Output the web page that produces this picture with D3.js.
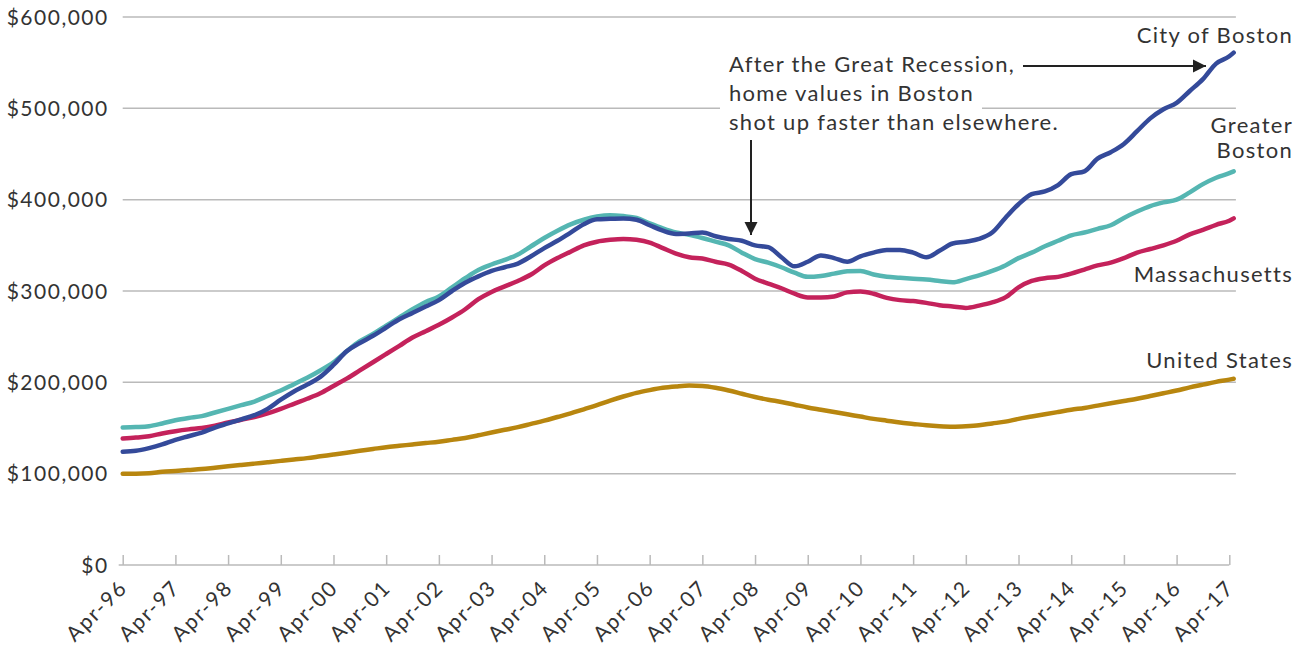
<!DOCTYPE html>
<html>
<head>
<meta charset="utf-8">
<script src="https://cdn.jsdelivr.net/npm/d3@7"></script>
<style>
  body { margin: 0; background: #fff; }
  svg { display: block; font-family: Lato, "Open Sans", sans-serif; }
</style>
</head>
<body>
<svg id="chart" width="1307" height="651"></svg>
<script>
// quarterly readings, in thousands of dollars, starting Apr-96 (last point is ~May-17)
const months = d3.range(0, 253, 3).concat([253]);

const cityOfBoston = [
    124, 125, 128, 132, 137, 141, 145, 150.5, 155, 159.5, 164, 171, 181, 190, 197.5, 206,
    219, 234, 243, 251, 260, 269, 276, 283, 290, 300, 309, 316, 322, 326, 330, 338,
    347, 355, 364, 373, 378.5, 379, 379.5, 378, 372, 366, 362.5, 363, 364, 360, 357, 355,
    350, 348, 337, 327, 332, 339, 336, 332, 338, 342, 345, 345, 342, 337, 344, 352,
    354, 357, 364, 380, 395, 406, 409, 416, 428, 431, 445, 452, 461, 475, 489, 499,
    506, 519, 532, 549, 557, 561
];
const greaterBoston = [
    150.5, 151, 152, 155, 158.5, 161, 163, 167, 171, 175, 179, 185, 191, 198, 205, 213,
    222, 234, 245, 253, 262, 271, 280, 288, 294, 304, 314, 323, 329, 334, 340, 349,
    358, 366, 373, 378, 381.5, 383, 382, 380, 374, 368.5, 364, 361.5, 358, 354, 350, 342,
    335, 331, 326, 320, 315.5, 316.5, 319, 321.5, 322, 318, 315.5, 314.5, 313.5, 312.5, 311, 309.5,
    313, 317, 322, 328, 336, 342, 349, 355, 361, 364, 368, 372, 380, 387, 393, 397,
    400, 408, 417, 424, 429, 431
];
const massachusetts = [
    138.5, 139.5, 141, 144, 146.5, 148.5, 150, 152.5, 156, 159, 162, 166, 171, 176.5, 182, 188,
    196, 204, 213, 222, 231, 240, 249, 256, 263, 271, 280, 291, 299, 305, 311, 318,
    328, 336, 343, 350, 354, 356, 357, 356, 353, 347, 341, 337, 335.5, 332, 329, 322,
    313.5, 308, 303, 297, 293, 293, 294, 298.5, 299.5, 297, 292.5, 290, 289, 287, 284.5, 283,
    281.5, 284, 287.5, 293, 304, 311, 314, 315.5, 319, 323.5, 328, 331, 336, 342, 346, 350,
    355, 362, 367, 372.5, 377, 379.5
];
const unitedStates = [
    100, 100, 100.5, 102, 103, 104, 105, 106.5, 108, 109.5, 111, 112.5, 114, 115.5, 117, 119,
    121, 123, 125, 127, 129, 130.5, 132, 133.5, 135, 137, 139, 142, 145, 148, 151, 154.5,
    158, 162, 166, 170.5, 175, 180, 184.5, 188.5, 191.5, 194, 195.5, 196.5, 196, 194, 191, 187.5,
    184, 181, 178.5, 175.5, 172.5, 170, 167.5, 165, 162.5, 160, 158, 156, 154.5, 153, 152, 151.5,
    152, 153, 155, 157, 160, 162.5, 165, 167.5, 170, 172, 174.5, 177, 179.5, 182, 185, 188,
    191, 194.5, 197.5, 200.5, 203, 204
];

const xTickLabels = ["Apr-96", "Apr-97", "Apr-98", "Apr-99", "Apr-00", "Apr-01", "Apr-02",
    "Apr-03", "Apr-04", "Apr-05", "Apr-06", "Apr-07", "Apr-08", "Apr-09", "Apr-10", "Apr-11",
    "Apr-12", "Apr-13", "Apr-14", "Apr-15", "Apr-16", "Apr-17"];
const yTicks = [0, 100000, 200000, 300000, 400000, 500000, 600000];

const series = [
    { name: 'United States', values: unitedStates, color: '#b8860f' },
    { name: 'Massachusetts', values: massachusetts, color: '#c4225b' },
    { name: 'Greater Boston', values: greaterBoston, color: '#55b6b2' },
    { name: 'City of Boston', values: cityOfBoston, color: '#344a9a' }
];

const FONT = 'Lato, "Open Sans", sans-serif';
const svg = d3.select('#chart');

const x = d3.scaleLinear().domain([0, 252]).range([122.7, 1229.3]);
const y = d3.scaleLinear().domain([0, 600000]).range([565, 17]);

// gridlines
svg.append('g')
    .selectAll('line')
    .data(yTicks.filter(d => d > 0))
    .enter()
    .append('line')
    .attr('x1', x(0))
    .attr('x2', x(253.5))
    .attr('y1', d => y(d))
    .attr('y2', d => y(d))
    .attr('stroke', '#bababa')
    .attr('stroke-width', 1.5);

// y axis labels
const yAxis = svg.append('g')
    .attr('transform', `translate(${x(0) - 14},0)`)
    .attr('font-family', FONT)
    .call(d3.axisLeft(y).tickValues(yTicks).tickSize(0).tickFormat(d => '$' + d3.format(',')(d)));
yAxis.select('.domain').remove();
yAxis.selectAll('text')
    .attr('font-family', FONT)
    .attr('font-size', 21)
    .attr('letter-spacing', 1.5)
    .attr('fill', '#333')
    .attr('dy', '0.34em')
    .attr('x', 0);

// x axis: baseline with ticks pointing up
const xAxis = svg.append('g')
    .attr('transform', `translate(0,${y(0)})`)
    .call(d3.axisTop(x)
        .tickValues(d3.range(0, 253, 12))
        .tickSize(10)
        .tickSizeOuter(0)
        .tickFormat(() => ''));
xAxis.select('.domain')
    .attr('d', `M${x(0) - 4},0H${x(252)}`)
    .attr('stroke', '#bababa')
    .attr('stroke-width', 1.5);
xAxis.selectAll('.tick line').attr('stroke', '#bababa').attr('stroke-width', 1.5);

svg.append('g')
    .selectAll('text')
    .data(xTickLabels)
    .enter()
    .append('text')
    .attr('transform', (d, i) => `translate(${x(i * 12) + 6},${y(0) + 24}) rotate(-45)`)
    .attr('text-anchor', 'end')
    .attr('font-size', 21)
    .attr('letter-spacing', 1.8)
    .attr('fill', '#333')
    .text(d => d);

// lines
const line = d3.line()
    .x((d, i) => x(months[i]))
    .y(d => y(d * 1000))
    .curve(d3.curveMonotoneX);

svg.append('g')
    .selectAll('path')
    .data(series)
    .enter()
    .append('path')
    .attr('d', d => line(d.values))
    .attr('fill', 'none')
    .attr('stroke', d => d.color)
    .attr('stroke-width', 4.5)
    .attr('stroke-linejoin', 'round')
    .attr('stroke-linecap', 'round');

// series labels
const labels = [
    { lines: ['City of Boston'], y: 43 },
    { lines: ['Greater', 'Boston'], y: 133 },
    { lines: ['Massachusetts'], y: 282 },
    { lines: ['United States'], y: 368 }
];
labels.forEach(l => {
    l.lines.forEach((t, i) => {
        svg.append('text')
            .attr('x', 1293)
            .attr('y', l.y + i * 25)
            .attr('text-anchor', 'end')
            .attr('font-size', 22)
            .attr('letter-spacing', 1.3)
            .attr('fill', '#333')
            .text(t);
    });
});

// annotation
const noteLines = ['After the Great Recession,', 'home values in Boston', 'shot up faster than elsewhere.'];
svg.append('rect')
    .attr('x', 720)
    .attr('y', 50)
    .attr('width', 262)
    .attr('height', 92)
    .attr('fill', '#fff');
noteLines.forEach((t, i) => {
    svg.append('text')
        .attr('x', 729)
        .attr('y', 72 + i * 29)
        .attr('font-size', 22)
        .attr('letter-spacing', 1.3)
        .attr('fill', '#333')
        .text(t);
});

svg.append('defs').append('marker')
    .attr('id', 'arrow')
    .attr('viewBox', '0 0 10 10')
    .attr('refX', 10)
    .attr('refY', 5)
    .attr('markerWidth', 13)
    .attr('markerHeight', 14)
    .attr('markerUnits', 'userSpaceOnUse')
    .attr('orient', 'auto')
    .append('path')
    .attr('d', 'M0,0L10,5L0,10Z')
    .attr('fill', '#222');

svg.append('line')
    .attr('x1', 1023).attr('y1', 66)
    .attr('x2', 1206).attr('y2', 66)
    .attr('stroke', '#222')
    .attr('stroke-width', 2)
    .attr('marker-end', 'url(#arrow)');

svg.append('line')
    .attr('x1', 751).attr('y1', 140)
    .attr('x2', 751).attr('y2', 235)
    .attr('stroke', '#222')
    .attr('stroke-width', 2)
    .attr('marker-end', 'url(#arrow)');
</script>
</body>
</html>
